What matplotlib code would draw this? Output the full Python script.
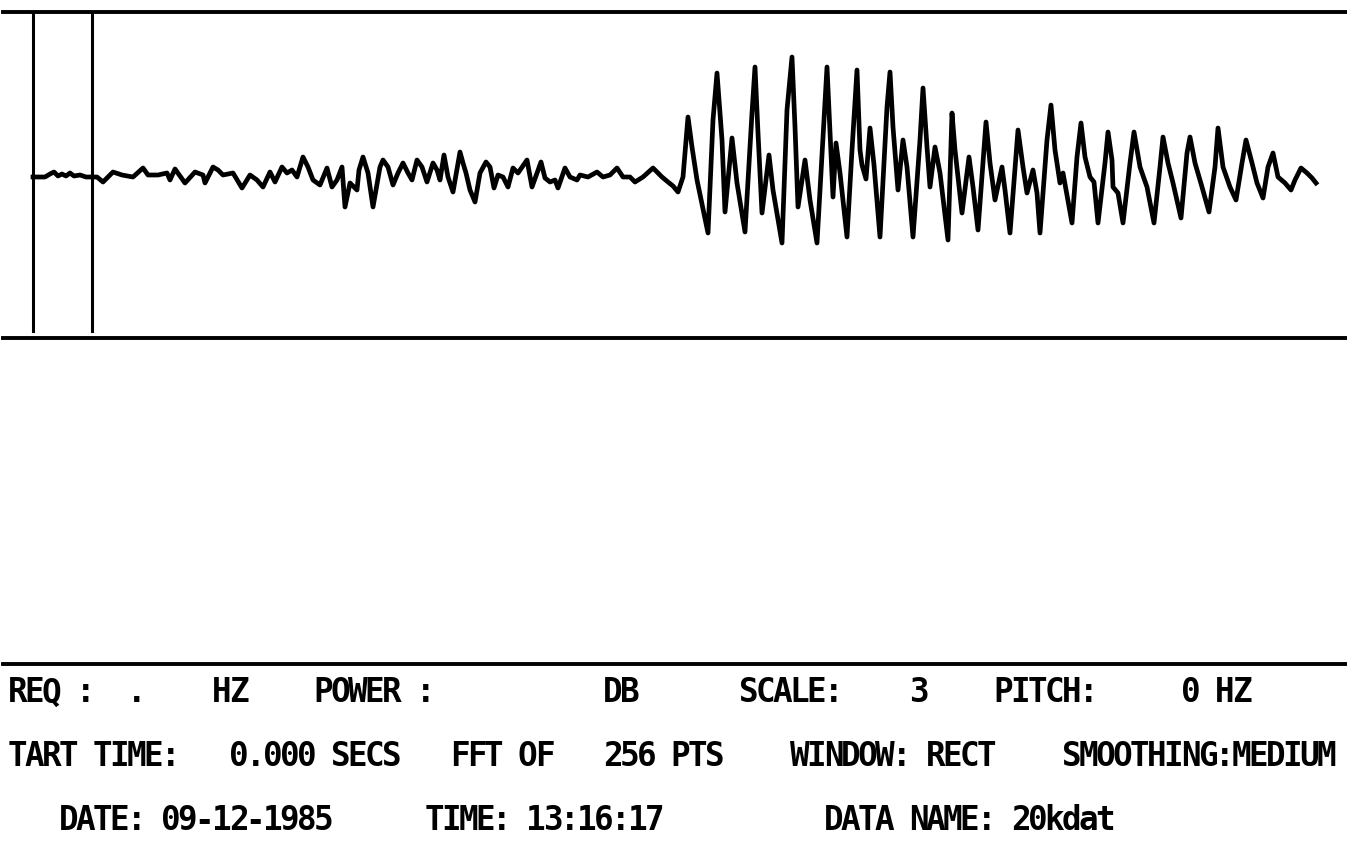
#!/usr/bin/env python3
"""
Waveform display screen (FFT analyser printout) re-drawn with matplotlib.
"""

import matplotlib
matplotlib.use("Agg")
import matplotlib.pyplot as plt

# === Waveform trace (time in samples from left cursor, amplitude in display units) ===
wave_t = [
    0, 12, 17, 21, 25, 29, 33, 37, 41, 47, 53, 57,
    64, 70, 80, 89, 100, 110, 115, 125, 134, 137, 142, 152, 162, 170, 172,
    180, 185, 190, 200, 209, 217, 224, 230, 237, 242, 249, 254, 259, 264,
    270, 275, 280, 287, 294, 299, 304, 309, 312, 317, 324, 326, 330, 335,
    340, 347, 350, 355, 360, 365, 370, 375, 379, 384, 389, 394, 400, 404,
    407, 411, 415, 420, 427, 430, 433, 437, 442, 447, 453, 457, 461, 465,
    470, 475, 480, 485, 494, 499, 504, 508, 512, 517, 522, 525, 532, 537,
    544, 547, 555, 564, 570, 577, 584, 590, 597, 602, 610, 620, 629, 635,
    640, 645, 650,
    655, 659, 664, 675, 680, 684, 689, 692, 699, 704, 712, 719, 722, 725,
    729, 736, 740, 749, 754, 759, 762, 765, 772, 777, 784, 794, 797, 800,
    803, 807, 814, 819, 824, 827, 829, 833, 837, 841, 847,
    854, 857, 860, 865, 870, 874, 880, 887, 890, 894, 897, 902, 907, 915,
    919, 922, 929, 936, 940, 945, 953, 957, 962, 969, 972, 977, 985, 990,
    994, 1000, 1004, 1007, 1014, 1018, 1022, 1027, 1030, 1039, 1044, 1048,
    1052, 1057, 1061, 1065,
    1072, 1075, 1079, 1080, 1085, 1090, 1097, 1101, 1107, 1114, 1121, 1127,
    1130, 1135, 1140, 1148, 1154, 1157, 1162, 1169, 1176, 1182, 1185, 1190,
    1197, 1203, 1209, 1213, 1219, 1224, 1230, 1235, 1240, 1245, 1252, 1258,
    1262, 1268, 1274, 1279, 1283,
]
wave_amp = [
    0, 0, 3, 5, 1, 3, 1, 4, 1, 2, 0, 0,
    0, -5, 5, 2, 0, 9, 2, 2, 4, -3, 8, -6, 5, 2, -6, 10, 7, 2, 4, -11,
    2, -3, -10, 5, -5, 10, 4, 7, 0, 20, 10, -3, -8, 9, -10, -3, 10, -30,
    -6, -13, 7, 20, 4, -30, 10, 17, 10, -8, 4, 14, 4, -3, 17, 10, -5, 14,
    7, -3, 22, 0, -15, 25, 14, 4, -13, -25, 4, 15, 10, -11, 2, 0, -10, 9,
    4, 17, -10, 4, 15, -1, -5, -3, -11, 9, 0, -3, 2, 0, 5, 0, 2, 9, 0,
    0, -5, 0, 9, 0, -5, -9, -15,
    0, 60, 30, -3, -56, 57, 104, 37, -35, 39, -6, -55, 64, 110, 44, -36,
    22, -13, -66, 67, 120, 50, -30, 17, -23, -66, 110, 44, -20, 34, 4, -60,
    27, 107, 27, 12, -2, 49, 12, -60,
    70, 105, 50, -13, 37, 10, -60, 37, 89, 30, -10, 30, 4, -63, 64, 27,
    -36, 20, -10, -53, 55, 14, -23, 10, -13, -56, 47, 10, -16, 7, -16, -56,
    37, 72, 27, -6, 4, -46, 20, 54, 20, 0,
    -5, -46, 14, 45, 17, -10, -16, -46, 14, 45, 10, -10, -46, 10, 40, 14,
    -6, -41, 24, 40, 14, -10, -35, 10, 49, 10, -10, -23, 14, 37, 14, -6,
    -21, 10, 24, 0, -6, -13, -3, 9, 4, -1, -6,
]

# cursor positions (samples)
cursors = [0, 59]

# === Status lines: (column, text) per row ===
row1 = [(0, "REQ :"), (7, "."), (12, "HZ"), (18, "POWER :"), (35, "DB"),
        (43, "SCALE:"), (53, "3"), (58, "PITCH:"), (69, "0 HZ")]
row2 = [(0, "TART TIME:"), (13, "0.000 SECS"), (26, "FFT OF"), (35, "256 PTS"),
        (46, "WINDOW: RECT"), (62, "SMOOTHING:MEDIUM")]
row3 = [(3, "DATE: 09-12-1985"), (24.5, "TIME: 13:16:17"), (48, "DATA NAME: 20kdat")]
status_rows = [row1, row2, row3]

# === Figure ===
W, H = 1347, 848
fig = plt.figure(figsize=(W / 100, H / 100), dpi=100)
fig.patch.set_facecolor("white")

# waveform window: box lines at y=12 px and y=338 px, from x=3 px to the right edge
x0 = 3
ax = fig.add_axes([x0 / W, 1 - 338 / H, (W - x0) / W, 326 / H])
ax.plot(wave_t, wave_amp, color="black", lw=3.4, solid_joinstyle="round")
for c in cursors:
    ax.axvline(c, ymin=0.022, ymax=1, color="black", lw=2.2)
ax.set_xlim(x0 - 33, W - 33)
ax.set_ylim(-161, 165)
ax.set_xticks([])
ax.set_yticks([])
for side in ("left", "right"):
    ax.spines[side].set_visible(False)
for side in ("top", "bottom"):
    ax.spines[side].set_linewidth(2.8)
ax.patch.set_alpha(0)

# status area below a rule at y=664 px; text on a fixed character grid
top_px = 664
ax2 = fig.add_axes([x0 / W, 0, (W - x0) / W, (H - top_px) / H])
ax2.set_xlim(-6 / 17, (W - x0 - 6) / 17)
row_pitch = 64
first_row = 29
ax2.set_ylim((H - top_px - first_row) / row_pitch, -first_row / row_pitch)
ax2.set_xticks([])
ax2.set_yticks([])
for side in ("left", "right", "bottom"):
    ax2.spines[side].set_visible(False)
ax2.spines["top"].set_linewidth(2.8)
ax2.patch.set_alpha(0)

for r, items in enumerate(status_rows):
    for col, txt in items:
        for i, ch in enumerate(txt):
            if ch == " ":
                continue
            ax2.text(col + i + 0.5, r, ch, ha="center", va="center",
                     family="DejaVu Sans Mono", fontweight="bold",
                     fontsize=23.5, color="black")

fig.savefig("out.png", dpi=100, facecolor="white")
